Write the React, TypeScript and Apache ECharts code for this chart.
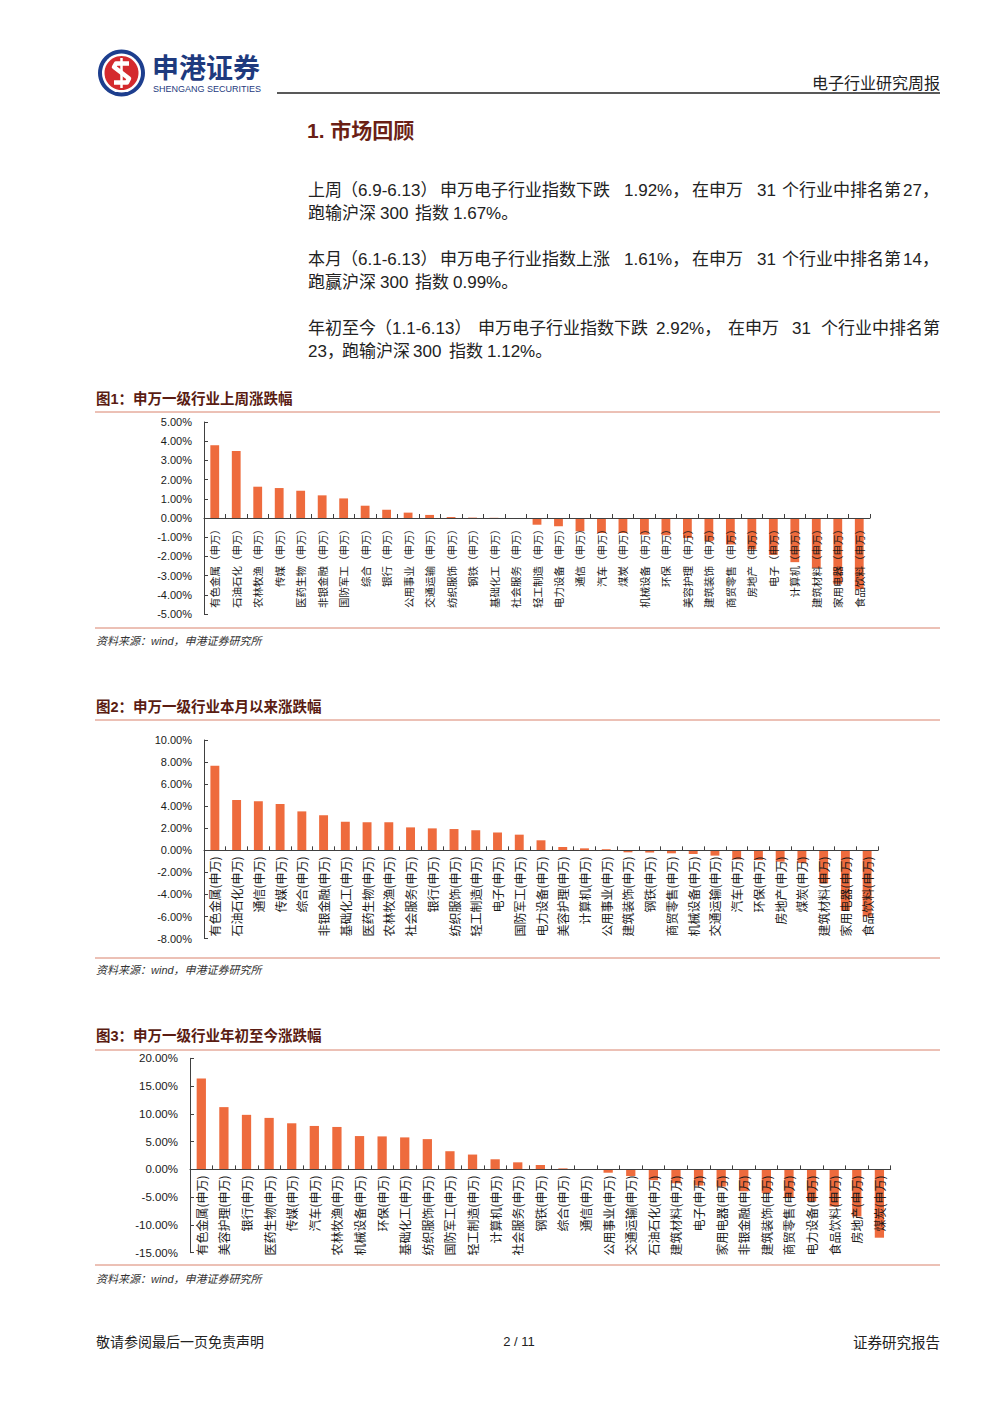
import React, { useEffect, useRef } from "react";
import * as echarts from "echarts";

// ---------- DATA ----------
const CATS1 = ["有色金属", "石油石化", "农林牧渔", "传媒", "医药生物", "非银金融", "国防军工", "综合", "银行", "公用事业", "交通运输", "纺织服饰", "钢铁", "基础化工", "社会服务", "轻工制造", "电力设备", "通信", "汽车", "煤炭", "机械设备", "环保", "美容护理", "建筑装饰", "商贸零售", "房地产", "电子", "计算机", "建筑材料", "家用电器", "食品饮料"];
const VALS1 = [3.79, 3.49, 1.63, 1.56, 1.42, 1.18, 1.02, 0.64, 0.43, 0.28, 0.16, 0.05, 0.02, 0.01, -0.02, -0.35, -0.43, -0.69, -0.78, -0.78, -0.87, -0.9, -1.04, -1.21, -1.38, -1.64, -1.92, -2.3, -2.6, -3.45, -3.7];

const CATS2 = ["有色金属", "石油石化", "通信", "传媒", "综合", "非银金融", "基础化工", "医药生物", "农林牧渔", "社会服务", "银行", "纺织服饰", "轻工制造", "电子", "国防军工", "电力设备", "美容护理", "计算机", "公用事业", "建筑装饰", "钢铁", "商贸零售", "机械设备", "交通运输", "汽车", "环保", "房地产", "煤炭", "建筑材料", "家用电器", "食品饮料"];
const VALS2 = [7.67, 4.56, 4.44, 4.2, 3.53, 3.17, 2.6, 2.54, 2.54, 2.08, 1.99, 1.93, 1.81, 1.61, 1.42, 0.91, 0.3, 0.18, 0.1, -0.18, -0.2, -0.27, -0.33, -0.48, -0.82, -0.88, -1.03, -1.15, -3.0, -5.5, -6.0];

const CATS3 = ["有色金属", "美容护理", "银行", "医药生物", "传媒", "汽车", "农林牧渔", "机械设备", "环保", "基础化工", "纺织服饰", "国防军工", "轻工制造", "计算机", "社会服务", "钢铁", "综合", "通信", "公用事业", "交通运输", "石油石化", "建筑材料", "电子", "家用电器", "非银金融", "建筑装饰", "商贸零售", "电力设备", "食品饮料", "房地产", "煤炭"];
const VALS3 = [16.36, 11.21, 9.82, 9.27, 8.3, 7.82, 7.64, 6.0, 5.94, 5.76, 5.45, 3.27, 2.67, 1.82, 1.27, 0.79, 0.18, 0.05, -0.6, -1.2, -1.94, -2.5, -2.92, -3.1, -3.94, -4.24, -5.0, -5.76, -6.67, -8.48, -12.3];

const TITLES = ["图1：申万一级行业上周涨跌幅", "图2：申万一级行业本月以来涨跌幅", "图3：申万一级行业年初至今涨跌幅"];
const SOURCE = "资料来源：wind，申港证券研究所";

// paragraph segments: [text, x]
const PARA: [number, [string, number][]][] = [
  [190, [["上周", 308], ["（6.9-6.13）", 341], ["申万电子行业指数下跌", 440], ["1.92%，", 624], ["在申万", 692], ["31", 757], ["个行业中排名第", 782], ["27，", 903]]],
  [213, [["跑输沪深", 308], ["300", 380], ["指数", 415], ["1.67%。", 453]]],
  [259, [["本月", 308], ["（6.1-6.13）", 341], ["申万电子行业指数上涨", 440], ["1.61%，", 624], ["在申万", 692], ["31", 757], ["个行业中排名第", 782], ["14，", 903]]],
  [282, [["跑赢沪深", 308], ["300", 380], ["指数", 415], ["0.99%。", 453]]],
  [328, [["年初至今", 308], ["（1.1-6.13）", 375], ["申万电子行业指数下跌", 478], ["2.92%，", 656], ["在申万", 728], ["31", 792], ["个行业中排名第", 821]]],
  [351, [["23，", 308], ["跑输沪深", 342], ["300", 413], ["指数", 449], ["1.12%。", 487]]],
];

const BAR_COLOR = "#EE6B3D";
const CJK = '"Noto Sans CJK SC", sans-serif';
const MIX = '"Liberation Sans", "Noto Sans CJK SC", sans-serif';
const TITLE_COLOR = "#5A1C12";
const RULE_COLOR = "#D9826C";

function App() {
  const ref = useRef<HTMLDivElement>(null);

  useEffect(() => {
    if (!ref.current) return;
    const chart = echarts.init(ref.current, null, { renderer: "svg" });

    const grids = [
      { left: 204, top: 422, width: 666, height: 192 },
      { left: 204, top: 740, width: 674, height: 198.6 },
      { left: 190, top: 1058.3, width: 700.7, height: 194.4 },
    ];
    const yRanges = [
      { min: -5, max: 5, interval: 1, font: 11 },
      { min: -8, max: 10, interval: 2, font: 11 },
      { min: -15, max: 20, interval: 5, font: 11.5 },
    ];
    const catSets = [
      CATS1.map((c) => c + "（申万）"),
      CATS2.map((c) => c + "(申万)"),
      CATS3.map((c) => c + "(申万)"),
    ];
    const valSets = [VALS1, VALS2, VALS3];
    const labelFonts = [10.5, 12, 12];

    const xAxis = grids.map((g, i) => {
      const r = yRanges[i];
      const zeroFromBottom = (g.height * (0 - r.min)) / (r.max - r.min);
      return {
        type: "category",
        gridIndex: i,
        data: catSets[i],
        position: "bottom",
        offset: -zeroFromBottom,
        z: 10,
        axisLine: { onZero: false, lineStyle: { color: "#404040", width: 1 } },
        axisTick: { show: true, inside: true, length: 4, alignWithLabel: false, lineStyle: { color: "#404040" } },
        axisLabel: {
          interval: 0,
          rotate: 90,
          margin: 6,
          fontSize: labelFonts[i],
          fontFamily: CJK,
          color: "#1a1a1a",
        },
        splitLine: { show: false },
      };
    });

    const yAxis = grids.map((_, i) => ({
      type: "value",
      gridIndex: i,
      min: yRanges[i].min,
      max: yRanges[i].max,
      interval: yRanges[i].interval,
      axisLine: { show: true, onZero: false, lineStyle: { color: "#404040", width: 1 } },
      axisTick: { show: true, inside: true, length: 4, lineStyle: { color: "#404040" } },
      splitLine: { show: false },
      axisLabel: {
        margin: 12,
        fontSize: yRanges[i].font,
        fontFamily: MIX,
        color: "#1a1a1a",
        formatter: (v: number) => v.toFixed(2) + "%",
      },
    }));

    const series = grids.map((_, i) => ({
      type: "bar",
      xAxisIndex: i,
      yAxisIndex: i,
      data: valSets[i],
      barWidth: "41%",
      z: 2,
      itemStyle: { color: BAR_COLOR },
      silent: true,
    }));

    const text = (x: number, y: number, t: string, o: any = {}) => ({
      type: "text",
      x,
      y,
      silent: true,
      style: {
        text: t,
        fill: o.fill || "#1a1a1a",
        fontSize: o.size || 16,
        fontFamily: o.family || MIX,
        fontWeight: o.weight || "normal",
        fontStyle: o.style || "normal",
        textAlign: o.align || "left",
        textVerticalAlign: "middle",
      },
    });
    const hline = (x1: number, x2: number, y: number, color: string, w = 1) => ({
      type: "line",
      silent: true,
      shape: { x1, y1: y, x2, y2: y },
      style: { stroke: color, lineWidth: w },
    });

    const graphics: any[] = [
      // logo
      { type: "circle", shape: { cx: 121.5, cy: 73, r: 23.5 }, style: { fill: "#1D3E8E" } },
      { type: "circle", shape: { cx: 121.5, cy: 73, r: 19.5 }, style: { fill: "#ffffff" } },
      { type: "circle", shape: { cx: 121.5, cy: 73, r: 17 }, style: { fill: "#D42A2E" } },
      {
        type: "polyline",
        shape: { points: [[129, 63.5], [116, 63.5], [114, 67], [129, 78.5], [127, 82.5], [114, 82.5]] },
        style: { stroke: "#ffffff", lineWidth: 4.5, fill: null, lineJoin: "round" },
      },
      { type: "line", shape: { x1: 121.5, y1: 58, x2: 121.5, y2: 88 }, style: { stroke: "#ffffff", lineWidth: 2.5 } },
      text(152, 66.5, "申港证券", { size: 27, weight: "bold", fill: "#1E3A7E", family: CJK }),
      text(153, 88.5, "SHENGANG SECURITIES", { size: 9, fill: "#1E3A7E", family: '"Liberation Sans Narrow", "Liberation Sans", sans-serif' }),
      text(940, 82, "电子行业研究周报", { size: 16, align: "right", family: CJK, fill: "#222" }),
      hline(277, 940, 93, "#222222", 1.5),
      // section title
      text(307, 130, "1. 市场回顾", { size: 21, weight: "bold", fill: "#6B1F15", family: MIX }),
    ];

    PARA.forEach(([y, segs]) => {
      segs.forEach(([t, x]) => graphics.push(text(x, y, t, { size: 17, fill: "#222" })));
    });

    const titleY = [399, 707, 1036];
    const ruleTop = [412, 720, 1050];
    const ruleBottom = [628, 958, 1265];
    const srcY = [641, 970, 1279];
    for (let i = 0; i < 3; i++) {
      graphics.push(text(96, titleY[i], TITLES[i], { size: 14.5, weight: "bold", fill: TITLE_COLOR, family: MIX }));
      graphics.push(hline(95, 940, ruleTop[i], RULE_COLOR, 1));
      graphics.push(hline(95, 940, ruleBottom[i], RULE_COLOR, 1));
      graphics.push(text(96, srcY[i], SOURCE, { size: 11, style: "italic", fill: "#333", family: MIX }));
    }

    // footer
    graphics.push(text(96, 1341, "敬请参阅最后一页免责声明", { size: 14, fill: "#222", family: CJK }));
    graphics.push(text(519, 1341, "2 / 11", { size: 13, fill: "#222", align: "center" }));
    graphics.push(text(940, 1341, "证券研究报告", { size: 14.5, fill: "#222", align: "right", family: CJK }));

    chart.setOption({
      animation: false,
      backgroundColor: "#ffffff",
      grid: grids,
      xAxis,
      yAxis,
      series,
      graphic: { elements: graphics },
    });

    return () => chart.dispose();
  }, []);

  return (
    <div
      ref={ref}
      style={{ position: "absolute", left: 0, top: 0, width: 1000, height: 1414, background: "#fff" }}
    />
  );
}

export default App;
